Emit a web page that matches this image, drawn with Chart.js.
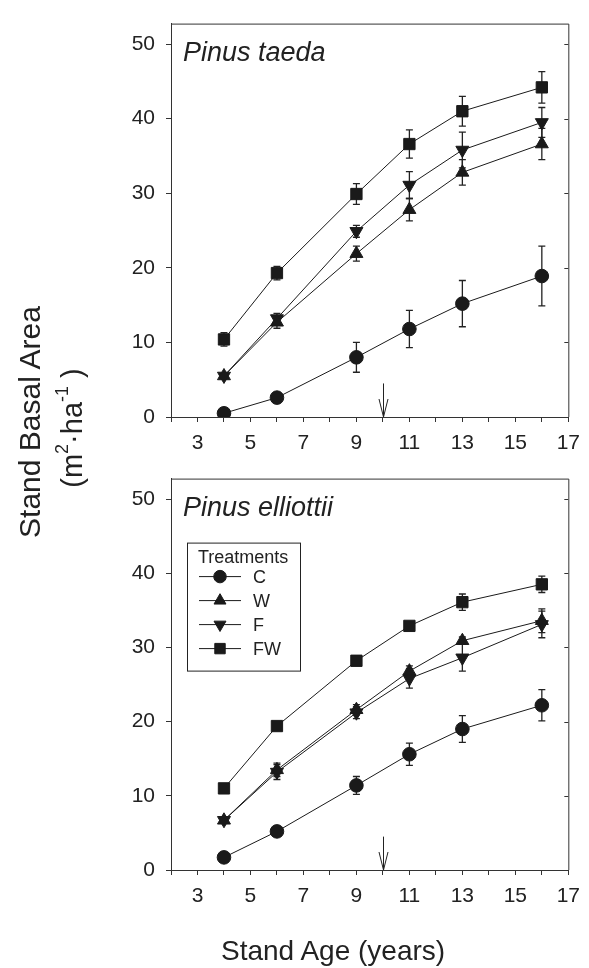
<!DOCTYPE html>
<html>
<head>
<meta charset="utf-8">
<script src="https://cdn.jsdelivr.net/npm/chart.js@4"></script>
<style>
  body { margin:0; background:#fff; width:589px; height:968px; position:relative; overflow:hidden;
         font-family:"Liberation Sans", Arial, sans-serif; color:#222; }
  canvas { position:absolute; left:0; }
  #c1 { top:0; }
  #c2 { top:455px; }
  .lbl { position:absolute; white-space:nowrap; line-height:1; }
  .lbl sup { font-size:0.62em; vertical-align:0.75em; line-height:0; }
  #ytitle { left:30px; top:422px; font-size:30px; transform:translate(-50%,-50%) rotate(-90deg); }
  #yunits { left:72px; top:428px; font-size:29px; transform:translate(-50%,-50%) rotate(-90deg); }
  #xtitle { left:221px; top:937px; font-size:28px; }
</style>
</head>
<body>
<canvas id="c1" width="589" height="470"></canvas>
<canvas id="c2" width="589" height="513"></canvas>
<div class="lbl" id="ytitle">Stand Basal Area</div>
<div class="lbl" id="yunits">(m<sup>2</sup>·ha<sup>-1</sup> )</div>
<div class="lbl" id="xtitle">Stand Age (years)</div>
<script>
// stand age (years) and axis ticks
const ages = [4, 6, 9, 11, 13, 16];
const treatments = ['C', 'W', 'F', 'FW'];
const yTicks = [0, 10, 20, 30, 40, 50];
const xTicks = [2, 3, 4, 5, 6, 7, 8, 9, 10, 11, 12, 13, 14, 15, 16, 17];
const xLabelled = [3, 5, 7, 9, 11, 13, 15, 17];
const arrowAge = 10;

// Pinus taeda, basal area (m2/ha) and error
const taedaC   = [0.5, 2.6, 8.0, 11.8, 15.2, 18.9];
const taedaCErr  = [0.2, 0.7, 2.0, 2.5, 3.1, 4.0];
const taedaW   = [5.5, 12.7, 21.9, 27.8, 32.8, 36.6];
const taedaWErr  = [0.3, 0.8, 1.0, 1.5, 1.7, 2.1];
const taedaF   = [5.5, 13.2, 24.9, 31.1, 35.8, 39.5];
const taedaFErr  = [0.3, 0.7, 0.8, 1.8, 2.4, 2.0];
const taedaFW  = [10.4, 19.3, 29.9, 36.6, 41.0, 44.2];
const taedaFWErr = [0.9, 0.9, 1.4, 1.9, 2.0, 2.1];

// Pinus elliottii
const elliC   = [1.7, 5.2, 11.4, 15.6, 19.0, 22.2];
const elliCErr  = [0.2, 0.3, 1.2, 1.5, 1.8, 2.1];
const elliW   = [6.7, 13.5, 21.6, 26.8, 30.9, 33.6];
const elliWErr  = [0.3, 0.9, 0.7, 0.7, 0.5, 1.6];
const elliF   = [6.7, 13.2, 21.2, 25.8, 28.6, 33.1];
const elliFErr  = [0.3, 1.0, 0.8, 1.3, 1.8, 1.8];
const elliFW  = [11.0, 19.4, 28.2, 32.9, 36.1, 38.5];
const elliFWErr = [0.2, 0.3, 0.3, 0.4, 1.1, 1.1];

const ink = '#1a1a1a';
const markers = [
  { style: 'circle',   r: 6.8, rot: 0 },
  { style: 'triangle', r: 7.5, rot: 0 },
  { style: 'triangle', r: 7.5, rot: 180 },
  { style: 'rect',     r: 8,   rot: 0 }
];

function series(vals, errs, k) {
  const m = markers[k];
  return {
    label: treatments[k],
    data: ages.map((a, i) => ({ x: a, y: vals[i] })),
    errors: errs,
    borderColor: ink, backgroundColor: ink, borderWidth: 1,
    pointStyle: m.style, pointRadius: m.r, pointHoverRadius: m.r, pointRotation: m.rot,
    pointBorderWidth: 1, tension: 0, fill: false
  };
}

const errorBars = {
  id: 'errorBars',
  beforeDatasetsDraw(chart) {
    const { ctx, scales: { x, y } } = chart;
    ctx.save();
    ctx.strokeStyle = '#222';
    ctx.lineWidth = 1.3;
    chart.data.datasets.forEach(ds => {
      ds.data.forEach((p, i) => {
        const e = ds.errors[i];
        const px = x.getPixelForValue(p.x);
        const t = y.getPixelForValue(p.y + e), b = y.getPixelForValue(p.y - e);
        ctx.beginPath();
        ctx.moveTo(px, t); ctx.lineTo(px, b);
        ctx.moveTo(px - 3.5, t); ctx.lineTo(px + 3.5, t);
        ctx.moveTo(px - 3.5, b); ctx.lineTo(px + 3.5, b);
        ctx.stroke();
      });
    });
    ctx.restore();
  }
};

// top/right frame, inward right ticks, panel title and the age arrow
const panelDecor = {
  id: 'panelDecor',
  afterDraw(chart, args, opts) {
    const { ctx, chartArea: a, scales: { x, y } } = chart;
    ctx.save();
    ctx.strokeStyle = '#333';
    ctx.lineWidth = 1;
    ctx.beginPath();
    ctx.moveTo(a.left, a.top + 0.5); ctx.lineTo(a.right + 0.5, a.top + 0.5);
    ctx.lineTo(a.right + 0.5, a.bottom);
    yTicks.forEach(v => {
      const py = Math.round(y.getPixelForValue(v)) + 0.5;
      ctx.moveTo(a.right, py); ctx.lineTo(a.right - 4, py);
    });
    ctx.stroke();

    // arrow at the treatment age
    const ax = Math.round(x.getPixelForValue(arrowAge)) + 0.5;
    const tip = y.getPixelForValue(0), tail = y.getPixelForValue(4.5);
    ctx.strokeStyle = '#222';
    ctx.beginPath();
    ctx.moveTo(ax, tail); ctx.lineTo(ax, tip);
    ctx.moveTo(ax - 4.5, tip - 18); ctx.lineTo(ax, tip); ctx.lineTo(ax + 4.5, tip - 18);
    ctx.stroke();

    ctx.fillStyle = '#222';
    ctx.font = 'italic 27px "Liberation Sans", Arial, sans-serif';
    ctx.textBaseline = 'alphabetic';
    ctx.fillText(opts.title, a.left + 12, a.top + 37);

    if (opts.legend) {
      const bx = a.left + 16.5, by = a.top + 64.5;
      ctx.strokeStyle = '#222';
      ctx.strokeRect(bx, by, 113, 128);
      ctx.font = '18px "Liberation Sans", Arial, sans-serif';
      ctx.textBaseline = 'middle';
      ctx.fillText('Treatments', a.left + 27, a.top + 79);
      chart.data.datasets.forEach((ds, k) => {
        const ly = a.top + 98 + k * 24;
        ctx.strokeStyle = ink;
        ctx.beginPath();
        ctx.moveTo(a.left + 28, ly); ctx.lineTo(a.left + 70, ly);
        ctx.stroke();
        ctx.fillStyle = ink;
        Chart.helpers.drawPoint(ctx, {
          pointStyle: ds.pointStyle, radius: ds.pointRadius * 0.92,
          rotation: ds.pointRotation, borderWidth: 1
        }, a.left + 49, ly);
        ctx.fillStyle = '#222';
        ctx.fillText(ds.label, a.left + 82, ly + 1);
      });
    }
    ctx.restore();
  }
};

function options(padTop, xHeight, title, legend) {
  const tickFont = { family: '"Liberation Sans", Arial, sans-serif', size: 21 };
  return {
    responsive: false,
    animation: false,
    layout: { padding: { top: padTop, right: 17, left: 0, bottom: 0 } },
    plugins: {
      legend: { display: false },
      tooltip: { enabled: false },
      panelDecor: { title: title, legend: legend }
    },
    scales: {
      x: {
        type: 'linear', min: 2, max: 17,
        afterBuildTicks: s => { s.ticks = xTicks.map(v => ({ value: v })); },
        afterFit: s => { s.height = xHeight; },
        ticks: { font: tickFont, color: '#222', padding: 9, maxRotation: 0, autoSkip: false,
                 callback: v => xLabelled.includes(v) ? String(v) : '' },
        grid: { drawOnChartArea: false, tickLength: 5, color: '#333' },
        border: { color: '#333', width: 1 }
      },
      y: {
        min: 0, max: 52.75,
        afterBuildTicks: s => { s.ticks = yTicks.map(v => ({ value: v })); },
        afterFit: s => { s.width = 171; },
        ticks: { font: tickFont, color: '#222', padding: 11 },
        grid: { drawOnChartArea: false, tickLength: 5, color: '#333' },
        border: { color: '#333', width: 1 }
      }
    }
  };
}

new Chart(document.getElementById('c1'), {
  type: 'line',
  data: { datasets: [
    series(taedaC, taedaCErr, 0), series(taedaW, taedaWErr, 1),
    series(taedaF, taedaFErr, 2), series(taedaFW, taedaFWErr, 3)
  ] },
  options: options(14, 53, 'Pinus taeda', false),
  plugins: [errorBars, panelDecor]
});

new Chart(document.getElementById('c2'), {
  type: 'line',
  data: { datasets: [
    series(elliC, elliCErr, 0), series(elliW, elliWErr, 1),
    series(elliF, elliFErr, 2), series(elliFW, elliFWErr, 3)
  ] },
  options: options(12, 98, 'Pinus elliottii', true),
  plugins: [errorBars, panelDecor]
});
</script>
</body>
</html>
